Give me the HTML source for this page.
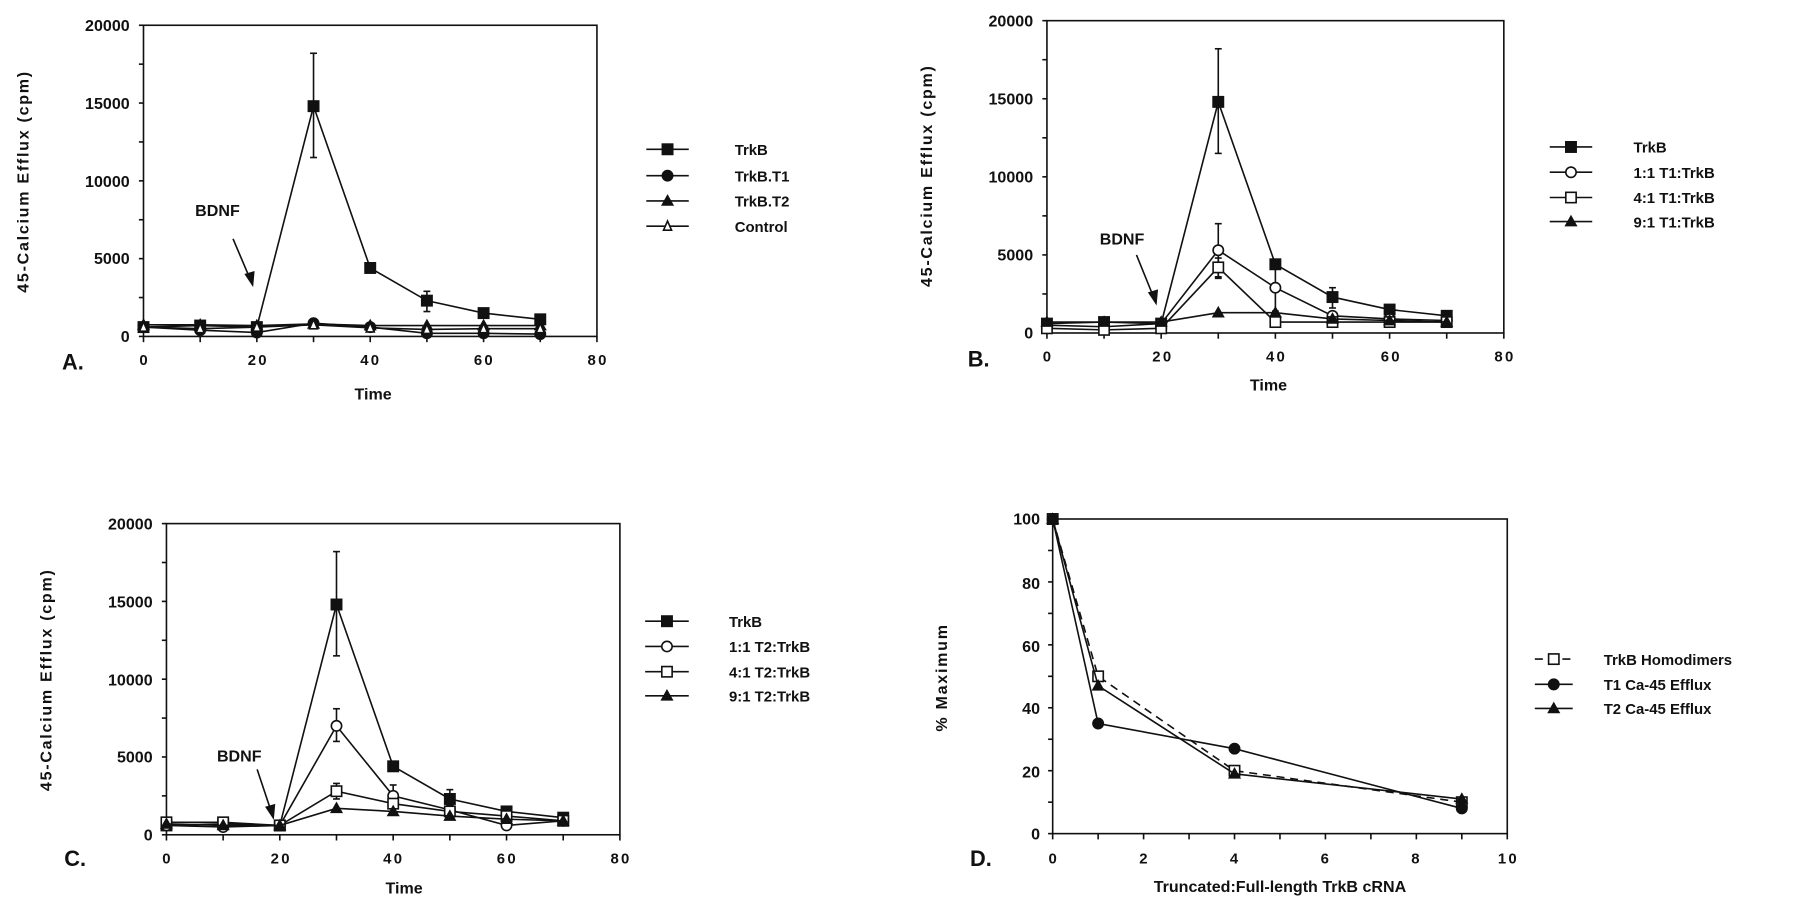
<!DOCTYPE html>
<html><head><meta charset="utf-8"><style>
html,body{margin:0;padding:0;background:#fff}
svg{display:block}
text{font-family:"Liberation Sans",sans-serif;font-weight:bold;fill:#111}
.t{font-size:13px;letter-spacing:2px}
.l{font-size:13px;font-weight:normal}
.ax{font-size:14px}
.p{font-size:19px}
</style></head><body>
<svg id="s" width="1800" height="914" viewBox="0 0 1568 796" preserveAspectRatio="none" xmlns="http://www.w3.org/2000/svg">
<g id="g" stroke="#111" stroke-width="1.4" fill="none"></g>
<!-- Panel A text -->
<g text-anchor="end" class="ax"><text x="113" y="27">20000</text><text x="113" y="95">15000</text><text x="113" y="163">10000</text><text x="113" y="230">5000</text><text x="113" y="298">0</text></g>
<g text-anchor="middle" class="t"><text x="126" y="318">0</text><text x="225" y="318">20</text><text x="323" y="318">40</text><text x="422" y="318">60</text><text x="521" y="318">80</text></g>
<text x="54" y="322" class="p">A.</text>
<text x="325" y="348" text-anchor="middle" class="ax">Time</text>
<text transform="translate(25,158) rotate(-90)" text-anchor="middle" class="ax" style="letter-spacing:1.5px">45-Calcium  Efflux  (cpm)</text>
<text x="170" y="188" class="ax">BDNF</text>
<g class="l"><text x="640" y="135">TrkB</text><text x="640" y="158">TrkB.T1</text><text x="640" y="180">TrkB.T2</text><text x="640" y="202">Control</text></g>
<!-- Panel B text -->
<g text-anchor="end" class="ax"><text x="900" y="23">20000</text><text x="900" y="91">15000</text><text x="900" y="159">10000</text><text x="900" y="227">5000</text><text x="900" y="295">0</text></g>
<g text-anchor="middle" class="t"><text x="913" y="315">0</text><text x="1013" y="315">20</text><text x="1112" y="315">40</text><text x="1212" y="315">60</text><text x="1311" y="315">80</text></g>
<text x="843" y="319" class="p">B.</text>
<text x="1105" y="340" text-anchor="middle" class="ax">Time</text>
<text transform="translate(812,153) rotate(-90)" text-anchor="middle" class="ax" style="letter-spacing:1.5px">45-Calcium  Efflux  (cpm)</text>
<text x="958" y="213" class="ax">BDNF</text>
<g class="l"><text x="1423" y="133">TrkB</text><text x="1423" y="155">1:1 T1:TrkB</text><text x="1423" y="177">4:1 T1:TrkB</text><text x="1423" y="198">9:1 T1:TrkB</text></g>
<!-- Panel C text -->
<g text-anchor="end" class="ax"><text x="133" y="461">20000</text><text x="133" y="529">15000</text><text x="133" y="597">10000</text><text x="133" y="664">5000</text><text x="133" y="732">0</text></g>
<g text-anchor="middle" class="t"><text x="146" y="752">0</text><text x="245" y="752">20</text><text x="343" y="752">40</text><text x="442" y="752">60</text><text x="541" y="752">80</text></g>
<text x="56" y="754" class="p">C.</text>
<text x="352" y="778" text-anchor="middle" class="ax">Time</text>
<text transform="translate(45,592) rotate(-90)" text-anchor="middle" class="ax" style="letter-spacing:1.5px">45-Calcium  Efflux  (cpm)</text>
<text x="189" y="663" class="ax">BDNF</text>
<g class="l"><text x="635" y="546">TrkB</text><text x="635" y="568">1:1 T2:TrkB</text><text x="635" y="590">4:1 T2:TrkB</text><text x="635" y="611">9:1 T2:TrkB</text></g>
<!-- Panel D text -->
<g text-anchor="end" class="ax"><text x="906" y="457">100</text><text x="906" y="513">80</text><text x="906" y="568">60</text><text x="906" y="622">40</text><text x="906" y="677">20</text><text x="906" y="731">0</text></g>
<g text-anchor="middle" class="t"><text x="918" y="752">0</text><text x="997" y="752">2</text><text x="1076" y="752">4</text><text x="1155" y="752">6</text><text x="1234" y="752">8</text><text x="1314" y="752">10</text></g>
<text x="845" y="754" class="p">D.</text>
<text x="1115" y="777" text-anchor="middle" class="ax">Truncated:Full-length  TrkB  cRNA</text>
<text transform="translate(825,590) rotate(-90)" text-anchor="middle" class="ax" style="letter-spacing:1.5px">%  Maximum</text>
<g class="l"><text x="1397" y="579">TrkB Homodimers</text><text x="1397" y="601">T1 Ca-45 Efflux</text><text x="1397" y="622">T2 Ca-45 Efflux</text></g>
</svg>
<script>
var g=document.getElementById('g'),NS='http://www.w3.org/2000/svg';
function el(t,a){var e=document.createElementNS(NS,t);for(var k in a)e.setAttribute(k,a[k]);g.appendChild(e);return e;}
function marker(type,x,y){var r=4.5;
 if(type=='fs')el('rect',{x:x-r,y:y-r,width:2*r,height:2*r,fill:'#111'});
 if(type=='os')el('rect',{x:x-r,y:y-r,width:2*r,height:2*r,fill:'#fff'});
 if(type=='fc')el('circle',{cx:x,cy:y,r:r,fill:'#111'});
 if(type=='oc')el('circle',{cx:x,cy:y,r:r,fill:'#fff'});
 if(type=='ft')el('polygon',{points:(x-r)+','+(y+r-1)+' '+(x+r)+','+(y+r-1)+' '+x+','+(y-r),fill:'#111'});
 if(type=='ot')el('polygon',{points:(x-r+1)+','+(y+r-1)+' '+(x+r-1)+','+(y+r-1)+' '+x+','+(y-r),fill:'#fff'});
}
function panel(P){
 var X=function(v){return P.x0+(P.x1-P.x0)*v/P.xm},Y=function(v){return P.y0-(P.y0-P.y1)*v/P.ym};
 el('rect',{x:P.x0,y:P.y1,width:P.x1-P.x0,height:P.y0-P.y1});
 for(var v=0;v<=P.xm+1e-9;v+=P.xs)el('line',{x1:X(v),y1:P.y0,x2:X(v),y2:P.y0+5});
 for(var v=0;v<=P.ym+1e-9;v+=P.ys)el('line',{x1:P.x0,y1:Y(v),x2:P.x0-4,y2:Y(v)});
 P.series.forEach(function(s){
  var pts=s.d.map(function(p){return X(p[0])+','+Y(p[1])}).join(' ');
  var a={points:pts};if(s.dash)a['stroke-dasharray']='7,5';el('polyline',a);
  (s.e||[]).forEach(function(e){el('line',{x1:X(e[0]),y1:Y(e[1]),x2:X(e[0]),y2:Y(e[2])});
   el('line',{x1:X(e[0])-3,y1:Y(e[1]),x2:X(e[0])+3,y2:Y(e[1])});el('line',{x1:X(e[0])-3,y1:Y(e[2]),x2:X(e[0])+3,y2:Y(e[2])});});
  s.d.forEach(function(p){marker(s.m,X(p[0]),Y(p[1]))});
 });
 P.leg.forEach(function(l,i){var y=P.ly[i];var a={x1:P.lx0,y1:y,x2:P.lx1,y2:y};if(l.dash)a['stroke-dasharray']='7,5';el('line',a);marker(l.m,(P.lx0+P.lx1)/2,y);});
 if(P.arrow){var a=P.arrow;el('line',{x1:a[0],y1:a[1],x2:a[2],y2:a[3]});el('polygon',{points:a[2]+','+a[3]+' '+(a[2]-6)+','+(a[3]-9)+' '+(a[2]+1)+','+(a[3]-11),fill:'#111'});}
}
var trk={m:'fs',d:[[0,600],[10,700],[20,600],[30,14800],[40,4400],[50,2300],[60,1500],[70,1100]],e:[[30,11500,18200],[50,1600,2900]]};
panel({x0:125,x1:520,y0:293,y1:22,xm:80,ym:20000,xs:10,ys:2500,lx0:563,lx1:600,ly:[130,153,175,197],arrow:[203,208,220,248],
 series:[trk,
 {m:'fc',d:[[0,600],[10,400],[20,250],[30,850],[40,600],[50,200],[60,200],[70,150]]},
 {m:'ft',d:[[0,750],[10,750],[20,700],[30,800],[40,700],[50,700],[60,700],[70,700]]},
 {m:'ot',d:[[0,600],[10,500],[20,600],[30,750],[40,550],[50,450],[60,500],[70,500]]}],
 leg:[{m:'fs'},{m:'fc'},{m:'ft'},{m:'ot'}]});
panel({x0:912,x1:1310,y0:290,y1:18,xm:80,ym:20000,xs:10,ys:2500,lx0:1350,lx1:1387,ly:[128,150,172,193],arrow:[990,222,1007,264],
 series:[trk,
 {m:'oc',d:[[0,500],[10,400],[20,600],[30,5300],[40,2900],[50,1100],[60,900],[70,800]],e:[[30,3600,7000],[40,1400,4400]]},
 {m:'os',d:[[0,300],[10,200],[20,300],[30,4200],[40,700],[50,700],[60,700],[70,700]],e:[[30,3500,4800]]},
 {m:'ft',d:[[0,700],[10,700],[20,700],[30,1300],[40,1300],[50,900],[60,800],[70,700]]}],
 leg:[{m:'fs'},{m:'oc'},{m:'os'},{m:'ft'}]});
panel({x0:145,x1:540,y0:727,y1:456,xm:80,ym:20000,xs:10,ys:2500,lx0:562,lx1:600,ly:[541,563,585,606],arrow:[224,670,238,712],
 series:[trk,
 {m:'oc',d:[[0,600],[10,500],[20,600],[30,7000],[40,2500],[50,1600],[60,600],[70,900]],e:[[30,6000,8100],[40,2000,3200]]},
 {m:'os',d:[[0,800],[10,800],[20,600],[30,2800],[40,2000],[50,1500],[60,1200],[70,900]],e:[[30,2300,3300]]},
 {m:'ft',d:[[0,700],[10,600],[20,600],[30,1700],[40,1500],[50,1200],[60,1000],[70,900]]}],
 leg:[{m:'fs'},{m:'oc'},{m:'os'},{m:'ft'}]});
panel({x0:917,x1:1313,y0:726,y1:452,xm:10,ym:100,xs:1,ys:10,lx0:1337,lx1:1370,ly:[574,596,617],
 series:[
 {m:'os',dash:1,d:[[0,100],[1,50],[4,20],[9,10]]},
 {m:'fc',d:[[0,100],[1,35],[4,27],[9,8]]},
 {m:'ft',d:[[0,100],[1,47],[4,19],[9,11]]}],
 leg:[{m:'os',dash:1},{m:'fc'},{m:'ft'}]});
</script>
</body></html>
